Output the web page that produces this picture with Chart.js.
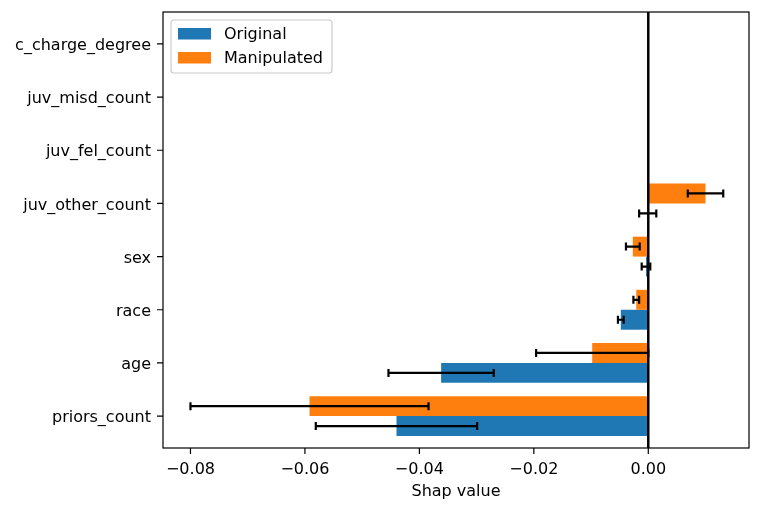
<!DOCTYPE html>
<html>
<head>
<meta charset="utf-8">
<script src="https://cdn.jsdelivr.net/npm/chart.js@4.4.1/dist/chart.umd.min.js"></script>
<style>
  html, body { margin: 0; padding: 0; background: #fff; }
  #wrap { width: 762px; height: 511px; }
</style>
</head>
<body>
<div id="wrap"><canvas id="shap-chart"></canvas></div>
<script>
// features listed top to bottom as they appear on the chart
const features = ['c_charge_degree', 'juv_misd_count', 'juv_fel_count', 'juv_other_count', 'sex', 'race', 'age', 'priors_count'];
const originalValues = [0, 0, 0, -0.0001, -0.0004, -0.0048, -0.0362, -0.0440];
const originalErrors = [0, 0, 0, 0.0015, 0.00075, 0.0005, 0.0092, 0.0141];
const manipulatedValues = [0, 0, 0, 0.0100, -0.0027, -0.0021, -0.0098, -0.0592];
const manipulatedErrors = [0, 0, 0, 0.0031, 0.0012, 0.0005, 0.0098, 0.0208];
const xTicks = [-0.08, -0.06, -0.04, -0.02, 0.00];
const legendItems = [
    { label: 'Original', color: '#1f77b4' },
    { label: 'Manipulated', color: '#ff7f0e' }
];

const FONT = '"DejaVu Sans", sans-serif';
const TICK_LEN = 6;

// y position of a feature (priors_count at 0, top row at 7)
const rowPos = i => features.length - 1 - i;

const toPoints = values => values.map((v, i) => ({ x: v, y: rowPos(i) }));

const minusSign = v => (v < 0 ? '\u2212' : '') + Math.abs(v).toFixed(2);

const shapPlugin = {
    id: 'shapExtras',
    afterDatasetsDraw(chart) {
        const ctx = chart.ctx;
        const xs = chart.scales.x;
        const area = chart.chartArea;
        ctx.save();

        // zero line
        const x0 = xs.getPixelForValue(0);
        ctx.strokeStyle = '#000';
        ctx.lineWidth = 2.5;
        ctx.beginPath();
        ctx.moveTo(x0, area.top);
        ctx.lineTo(x0, area.bottom);
        ctx.stroke();

        // error bars
        ctx.lineWidth = 2.2;
        chart.data.datasets.forEach((ds, i) => {
            const meta = chart.getDatasetMeta(i);
            meta.data.forEach((bar, j) => {
                const err = ds.errors[j];
                if (!err) return;
                const v = ds.data[j].x;
                const x1 = xs.getPixelForValue(v - err);
                const x2 = xs.getPixelForValue(v + err);
                const y = bar.y;
                ctx.beginPath();
                ctx.moveTo(x1, y); ctx.lineTo(x2, y);
                ctx.moveTo(x1, y - 4); ctx.lineTo(x1, y + 4);
                ctx.moveTo(x2, y - 4); ctx.lineTo(x2, y + 4);
                ctx.stroke();
            });
        });
        ctx.restore();
    },
    afterDraw(chart) {
        const ctx = chart.ctx;
        const area = chart.chartArea;
        const xs = chart.scales.x, ys = chart.scales.y;
        ctx.save();

        // axes frame
        ctx.strokeStyle = '#000';
        ctx.lineWidth = 1.2;
        ctx.strokeRect(area.left, area.top, area.right - area.left, area.bottom - area.top);

        // tick marks
        ctx.beginPath();
        xTicks.forEach(v => {
            const px = xs.getPixelForValue(v);
            ctx.moveTo(px, area.bottom); ctx.lineTo(px, area.bottom + TICK_LEN);
        });
        features.forEach((f, i) => {
            const py = ys.getPixelForValue(rowPos(i));
            ctx.moveTo(area.left, py); ctx.lineTo(area.left - TICK_LEN, py);
        });
        ctx.stroke();

        // legend box, upper left inside the plot
        const bx = area.left + 8, by = area.top + 8;
        ctx.fillStyle = 'rgba(255,255,255,0.8)';
        ctx.strokeStyle = '#cccccc';
        ctx.lineWidth = 1.2;
        ctx.beginPath();
        ctx.roundRect(bx, by, 161, 53, 3);
        ctx.fill();
        ctx.stroke();

        ctx.font = '16px ' + FONT;
        ctx.textBaseline = 'middle';
        legendItems.forEach((item, k) => {
            const ty = by + 13.5 + k * 24;
            ctx.fillStyle = item.color;
            ctx.fillRect(bx + 7, ty - 5.5, 33, 11.5);
            ctx.fillStyle = '#000';
            ctx.fillText(item.label, bx + 53, ty + 1);
        });
        ctx.restore();
    }
};

const hiddenGrid = {
    drawOnChartArea: false,
    drawTicks: true,
    tickLength: TICK_LEN,
    tickColor: 'rgba(0,0,0,0)',
    offset: false
};

new Chart(document.getElementById('shap-chart'), {
    type: 'bar',
    data: {
        datasets: [
            {
                label: 'Manipulated',
                data: toPoints(manipulatedValues),
                errors: manipulatedErrors,
                backgroundColor: '#ff7f0e',
                borderWidth: 0
            },
            {
                label: 'Original',
                data: toPoints(originalValues),
                errors: originalErrors,
                backgroundColor: '#1f77b4',
                borderWidth: 0
            }
        ]
    },
    options: {
        indexAxis: 'y',
        responsive: true,
        maintainAspectRatio: false,
        animation: false,
        categoryPercentage: 0.75,
        barPercentage: 1.0,
        layout: { padding: { top: 12, right: 13, left: 0, bottom: 0 } },
        plugins: {
            legend: { display: false },
            tooltip: { enabled: false }
        },
        scales: {
            x: {
                type: 'linear',
                min: -0.0848,
                max: 0.0176,
                afterBuildTicks: scale => { scale.ticks = xTicks.map(v => ({ value: v })); },
                afterFit: scale => {
                    scale.height = 63;
                    scale.paddingLeft = 0;
                    scale.paddingRight = 0;
                },
                grid: hiddenGrid,
                border: { display: false },
                ticks: {
                    color: '#000',
                    padding: 6,
                    font: { family: FONT, size: 16 },
                    maxRotation: 0,
                    callback: v => minusSign(v)
                },
                title: {
                    display: true,
                    text: 'Shap value',
                    color: '#000',
                    font: { family: FONT, size: 16 },
                    padding: { top: 0, bottom: 10 }
                }
            },
            y: {
                type: 'linear',
                min: -0.6,
                max: 7.6,
                offset: false,
                afterBuildTicks: scale => { scale.ticks = features.map((f, i) => ({ value: i })); },
                afterFit: scale => {
                    scale.width = 163;
                    scale.paddingTop = 0;
                    scale.paddingBottom = 0;
                },
                grid: hiddenGrid,
                border: { display: false },
                ticks: {
                    color: '#000',
                    padding: 6,
                    labelOffset: 2,
                    font: { family: FONT, size: 16 },
                    callback: v => features[features.length - 1 - v]
                }
            }
        }
    },
    plugins: [shapPlugin]
});
</script>
</body>
</html>
